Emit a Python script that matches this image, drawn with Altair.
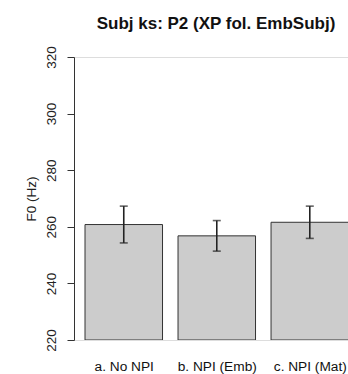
import altair as alt
import pandas as pd

categories = ["a. No NPI", "b. NPI (Emb)", "c. NPI (Mat)"]
means = [260.8, 256.8, 261.6]
errors = [6.5, 5.4, 5.7]
y_ticks = [220, 240, 260, 280, 300, 320]

bar_width = 1.0
space = 0.2
rows = []
for i, (c, m, e) in enumerate(zip(categories, means, errors)):
    left = space + i * (bar_width + space)
    rows.append(dict(cat=c, left=left, right=left + bar_width, mid=left + bar_width / 2,
                     mean=m, lo=m - e, hi=m + e, base=y_ticks[0]))
df = pd.DataFrame(rows)

# label expression built from the category list
expr = "'" + categories[-1] + "'"
for r in reversed(rows[:-1]):
    expr = f"datum.value < {r['right'] + space / 2} ? '{r['cat']}' : " + expr
mids = [r["mid"] for r in rows]

FONT = "Liberation Sans"
xs = alt.Scale(domain=[0.058, 3.593], nice=False, zero=False)
ys = alt.Scale(domain=[y_ticks[0], y_ticks[-1]], nice=False, zero=False)

xaxis = alt.Axis(values=mids, labelExpr=expr, domain=False, ticks=False, grid=False,
                 labelFont=FONT, labelFontSize=13.7, labelColor="#111",
                 labelBaseline="alphabetic", labelPadding=30, title=None)
yaxis = alt.Axis(values=y_ticks, grid=False, domainColor="#333", tickColor="#333",
                 tickSize=7, labelAngle=270, labelAlign="center", labelBaseline="alphabetic",
                 labelPadding=12, labelFont=FONT, labelFontSize=13.5, labelColor="#222",
                 title="F0 (Hz)", titleFont=FONT, titleFontSize=13.5, titleFontWeight="normal",
                 titleColor="#222", titlePadding=6)

base = alt.Chart(df)
bars = base.mark_rect(fill="#cccccc", stroke="#333", strokeWidth=1, clip=True).encode(
    x=alt.X("left:Q", scale=xs, axis=xaxis),
    x2="right:Q",
    y=alt.Y("base:Q", scale=ys, axis=yaxis),
    y2="mean:Q",
)
rule = base.mark_rule(color="#222", strokeWidth=1.6).encode(
    x=alt.X("mid:Q", scale=xs), y=alt.Y("lo:Q", scale=ys), y2="hi:Q")
cap_lo = base.mark_tick(orient="horizontal", size=8, thickness=1.6, color="#222").encode(
    x=alt.X("mid:Q", scale=xs), y=alt.Y("lo:Q", scale=ys))
cap_hi = base.mark_tick(orient="horizontal", size=8, thickness=1.6, color="#222").encode(
    x=alt.X("mid:Q", scale=xs), y=alt.Y("hi:Q", scale=ys))

chart = alt.layer(bars, rule, cap_lo, cap_hi).properties(
    width=274, height=283,
    title=alt.TitleParams("Subj ks: P2 (XP fol. EmbSubj)", font=FONT, fontSize=17,
                          fontWeight="bold", color="#111", anchor="middle",
                          baseline="alphabetic", offset=0, dx=5),
    autosize=alt.AutoSizeParams(type="none"),
    padding={"left": 74, "top": 57, "right": 0, "bottom": 34},
).configure_view(stroke=None).configure(background="white")

chart.save("out.html", embed_options={"renderer": "svg", "actions": False})
